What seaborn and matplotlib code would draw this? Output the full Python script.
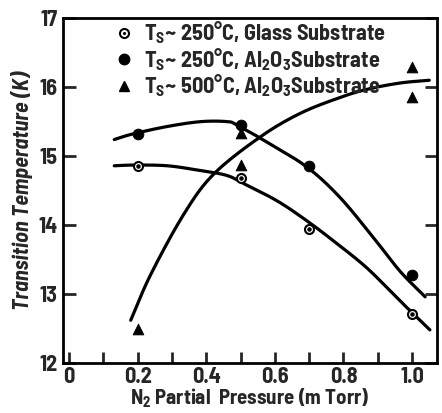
import numpy as np
import pandas as pd
import matplotlib
matplotlib.use("Agg")
import matplotlib.pyplot as plt
from matplotlib.lines import Line2D
import seaborn as sns

# ---- data ----
glass_x = [0.2, 0.5, 0.7, 1.0]
glass_y = [14.86, 14.68, 13.94, 12.71]

al250_x = [0.2, 0.5, 0.7, 1.0]
al250_y = [15.32, 15.45, 14.85, 13.27]

al500_x = [0.2, 0.5, 0.5, 1.0, 1.0]
al500_y = [12.5, 15.33, 14.87, 16.29, 15.86]

# hand-drawn guide curves (knots)
glass_cx = [0.132, 0.19, 0.287, 0.384, 0.46, 0.51, 0.607, 0.694, 0.771, 0.868, 0.965, 1.052]
glass_cy = [14.86, 14.87, 14.86, 14.79, 14.72, 14.60, 14.35, 14.06, 13.77, 13.38, 12.90, 12.48]

al250_cx = [0.132, 0.185, 0.287, 0.384, 0.461, 0.49, 0.578, 0.694, 0.79, 0.887, 0.965, 1.038]
al250_cy = [15.24, 15.32, 15.43, 15.50, 15.50, 15.45, 15.20, 14.84, 14.40, 13.82, 13.33, 12.96]

al500_cx = [0.18, 0.238, 0.335, 0.422, 0.558, 0.674, 0.79, 0.87, 0.965, 1.05]
al500_cy = [12.62, 13.28, 14.16, 14.74, 15.28, 15.62, 15.85, 15.97, 16.06, 16.10]

legend_labels = [r"T$_S$~ 250°C, Glass Substrate",
                 r"T$_S$~ 250°C, Al$_2$O$_3$Substrate",
                 r"T$_S$~ 500°C, Al$_2$O$_3$Substrate"]
x_label = r"N$_2$ Partial  Pressure (m Torr)"
y_label = "Transition Temperature (K)"


def smooth(xs, ys, n=30):
    P = np.column_stack([np.asarray(xs, float), np.asarray(ys, float)])
    P = np.vstack([2 * P[0] - P[1], P, 2 * P[-1] - P[-2]])
    out = []
    for i in range(1, len(P) - 2):
        p0, p1, p2, p3 = P[i - 1], P[i], P[i + 1], P[i + 2]
        t = np.linspace(0, 1, n, endpoint=False)[:, None]
        seg = 0.5 * ((2 * p1) + (-p0 + p2) * t + (2 * p0 - 5 * p1 + 4 * p2 - p3) * t ** 2
                     + (-p0 + 3 * p1 - 3 * p2 + p3) * t ** 3)
        out.append(seg)
    out.append(P[-2][None, :])
    arr = np.vstack(out)
    return pd.DataFrame({"x": arr[:, 0], "y": arr[:, 1]})


sns.set_theme(style="ticks")
plt.rcParams["font.family"] = ["Barlow Semi Condensed", "DejaVu Sans"]
plt.rcParams["font.weight"] = "bold"
plt.rcParams["mathtext.default"] = "regular"

fig = plt.figure(figsize=(4.42, 4.13), dpi=100)
ax = fig.add_axes([0.142, 0.121, 0.847, 0.835])

for cx, cy in [(glass_cx, glass_cy), (al250_cx, al250_cy), (al500_cx, al500_cy)]:
    d = smooth(cx, cy)
    sns.lineplot(data=d, x="x", y="y", sort=False, color="black", lw=2.3, ax=ax, estimator=None)

ax.scatter(glass_x, glass_y, s=42, facecolor="white", edgecolor="black", linewidths=1.5, zorder=5)
ax.scatter(glass_x, glass_y, s=5, color="black", zorder=6)
sns.scatterplot(x=al250_x, y=al250_y, s=60, color="black", marker="o", edgecolor="black", ax=ax, zorder=5)
sns.scatterplot(x=al500_x, y=al500_y, s=60, color="black", marker="^", edgecolor="black", ax=ax, zorder=5)

hg = Line2D([], [], marker="o", ls="", mfc="white", mec="black", mew=1.5, ms=6.5)
hgd = Line2D([], [], marker=".", ls="", color="black", ms=2.5)
ha = Line2D([], [], marker="o", ls="", color="black", ms=7.5)
ht = Line2D([], [], marker="^", ls="", color="black", ms=7.5)
ax.legend([(hg, hgd), ha, ht], legend_labels, loc="upper left", bbox_to_anchor=(0.105, 1.035),
          frameon=False, fontsize=16, handlelength=0.8, handletextpad=0.5,
          labelspacing=0.0, borderaxespad=0.2)

ax.set_xlim(-0.018, 1.073)
ax.set_ylim(12, 17)
ax.set_xticks([0, 0.2, 0.4, 0.6, 0.8, 1.0])
ax.set_xticklabels(["0", "0.2", "0.4", "0.6", "0.8", "1.0"])
ax.set_xticks(np.arange(0.1, 1.01, 0.2), minor=True)
ax.set_yticks([12, 13, 14, 15, 16, 17])
ax.set_yticklabels(["12", "13", "14", "15", "16", "17"])
ax.tick_params(axis="both", which="both", direction="in", width=2, length=9, labelsize=16,
               right=True, top=False, pad=4)
ax.tick_params(axis="x", which="both", length=8, pad=3)
for s in ax.spines.values():
    s.set_linewidth(2)
    s.set_color("black")
ax.set_xlabel(x_label, fontsize=15, fontweight="bold", labelpad=0)
ax.set_ylabel(y_label, fontsize=16, fontweight="bold", fontstyle="italic", labelpad=4)

fig.savefig("out.png", dpi=100)
